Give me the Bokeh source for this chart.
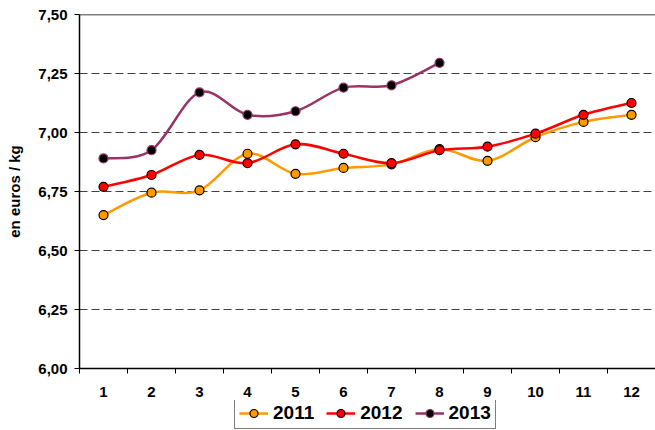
from bokeh.plotting import figure
from bokeh.layouts import column
from bokeh.models import ColumnDataSource, FixedTicker, Legend, LegendItem, Span
from bokeh.embed import file_html
from bokeh.resources import INLINE

# prix moyens mensuels (en euros / kg)
mois = list(range(1, 13))
prix_2011 = [6.65, 6.745, 6.755, 6.91, 6.825, 6.85, 6.865, 6.93, 6.88, 6.98, 7.045, 7.075]
prix_2012 = [6.77, 6.82, 6.905, 6.87, 6.95, 6.91, 6.87, 6.925, 6.94, 6.995, 7.075, 7.125]
prix_2013 = [6.89, 6.925, 7.17, 7.075, 7.09, 7.19, 7.20, 7.295]
mois_2013 = mois[:len(prix_2013)]

y_ticks = [6.0, 6.25, 6.5, 6.75, 7.0, 7.25, 7.5]
y_labels = ["6,00", "6,25", "6,50", "6,75", "7,00", "7,25", "7,50"]

FONT = "Liberation Sans"


def smooth(xs, ys, t=1 / 6):
    # courbe lissee type Excel : segments de Bezier passant par chaque point
    n = len(xs)
    d = dict(x0=[], y0=[], x1=[], y1=[], cx0=[], cy0=[], cx1=[], cy1=[])
    for i in range(n - 1):
        a = max(i - 1, 0)
        b = min(i + 2, n - 1)
        d["x0"].append(xs[i])
        d["y0"].append(ys[i])
        d["x1"].append(xs[i + 1])
        d["y1"].append(ys[i + 1])
        d["cx0"].append(xs[i] + (xs[i + 1] - xs[a]) * t)
        d["cy0"].append(ys[i] + (ys[i + 1] - ys[a]) * t)
        d["cx1"].append(xs[i + 1] - (xs[b] - xs[i]) * t)
        d["cy1"].append(ys[i + 1] - (ys[b] - ys[i]) * t)
    return ColumnDataSource(d)


p = figure(width=655, height=400, x_range=(0.5, 12.5), y_range=(6.0, 7.5),
           output_backend="svg", toolbar_location=None, tools="",
           min_border_left=79, min_border_right=0, min_border_top=14,
           min_border_bottom=32)
p.outline_line_color = None
p.background_fill_color = "white"

# petite figure sous le graphique pour porter la legende
# (meme plage que le graphique, series masquees : seule la legende se voit)
leg = figure(width=655, height=30, x_range=p.x_range, y_range=p.y_range,
             output_backend="svg", toolbar_location=None, tools="",
             x_axis_type=None, y_axis_type=None, min_border=0)
leg.outline_line_color = None
leg.xgrid.visible = False
leg.ygrid.visible = False

series = [
    ("2011", mois, prix_2011, "#FF9900", "#FF9900", "black"),
    ("2012", mois, prix_2012, "#FF0000", "#FF0000", "black"),
    ("2013", mois_2013, prix_2013, "#993366", "black", "#993366"),
]

items = []
for label, xs, ys, col, fill, edge in series:
    p.bezier(x0="x0", y0="y0", x1="x1", y1="y1", cx0="cx0", cy0="cy0",
             cx1="cx1", cy1="cy1", source=smooth(xs, ys),
             line_color=col, line_width=2.5)
    p.scatter(xs, ys, size=9, fill_color=fill, line_color=edge, line_width=1.2)
    l = leg.line(xs, ys, line_color=col, line_width=2.5, visible=False)
    s = leg.scatter(xs, ys, size=9, fill_color=fill, line_color=edge,
                    line_width=1.2, visible=False)
    items.append(LegendItem(label=label, renderers=[l, s]))

# bord superieur
p.add_layout(Span(location=7.5, dimension="width", line_color="black", line_width=1.5))

# axe x : etiquettes au centre, graduations entre les mois
p.xaxis.ticker = FixedTicker(ticks=mois, minor_ticks=[m + 0.5 for m in range(0, 13)])
p.xaxis.major_tick_out = 0
p.xaxis.major_tick_in = 0
p.xaxis.minor_tick_out = 5
p.xaxis.minor_tick_in = 0
p.xaxis.minor_tick_line_color = "black"
p.xaxis.major_label_standoff = 13
p.xgrid.visible = False

p.yaxis.ticker = FixedTicker(ticks=y_ticks, minor_ticks=[])
p.yaxis.major_label_overrides = dict(zip(y_ticks, y_labels))
p.yaxis.major_tick_out = 5
p.yaxis.major_tick_in = 0
p.yaxis.major_label_standoff = 7
p.yaxis.axis_label = "en euros / kg"
p.yaxis.axis_label_standoff = 12
p.yaxis.axis_label_text_font = FONT
p.yaxis.axis_label_text_font_style = "bold"
p.yaxis.axis_label_text_font_size = "15px"
p.yaxis.axis_label_text_color = "black"

for ax in (p.xaxis, p.yaxis):
    ax.axis_line_color = "black"
    ax.axis_line_width = 1.5
    ax.major_tick_line_color = "black"
    ax.major_label_text_font = FONT
    ax.major_label_text_font_style = "bold"
    ax.major_label_text_font_size = "15px"
    ax.major_label_text_color = "black"

p.ygrid.ticker = FixedTicker(ticks=[6.25, 6.5, 6.75, 7.0, 7.25])
p.ygrid.grid_line_color = "#404040"
p.ygrid.grid_line_dash = "8 4"
p.ygrid.grid_line_width = 1

legend = Legend(items=items, orientation="horizontal", location=(155, 1),
                border_line_color="black", border_line_width=1,
                label_text_font=FONT, label_text_font_style="bold",
                label_text_font_size="19px", label_text_color="black",
                glyph_width=29, glyph_height=20, label_height=20,
                label_standoff=5, spacing=12, padding=4, margin=0)
leg.add_layout(legend)

layout = column(p, leg, spacing=0)
open("out.html", "w").write(file_html(layout, INLINE))
